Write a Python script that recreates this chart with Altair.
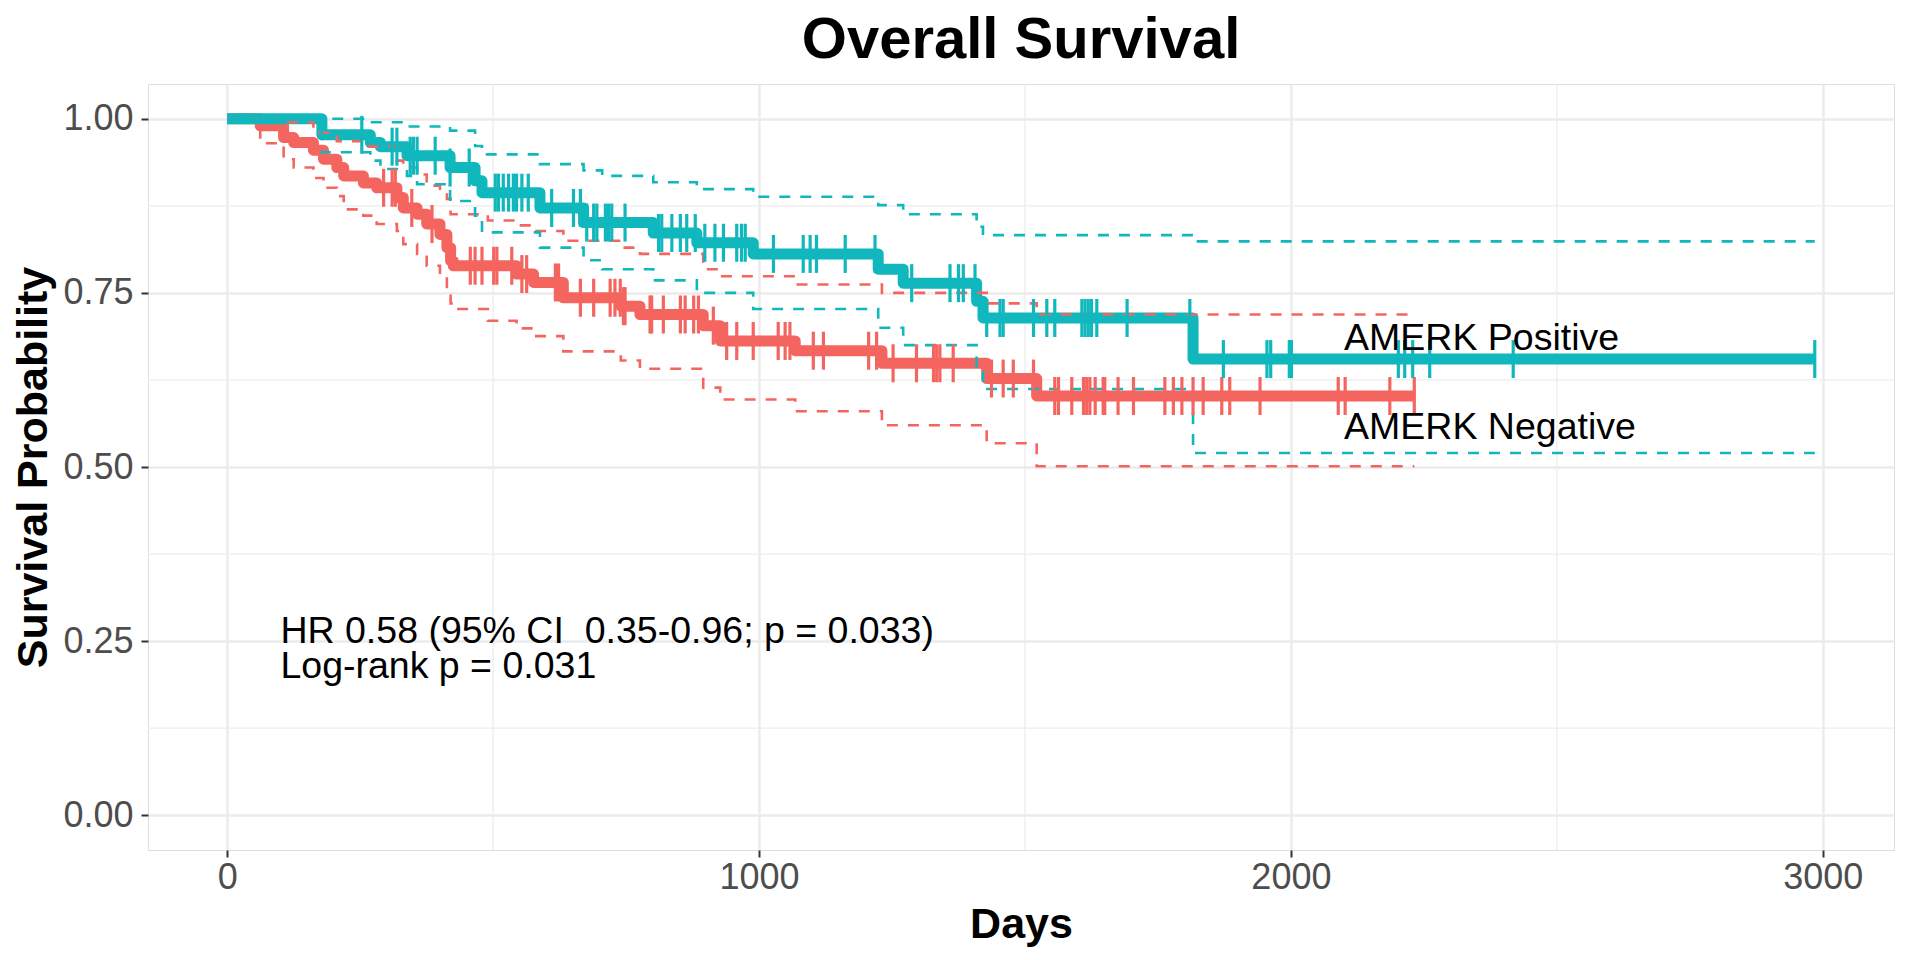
import altair as alt
import numpy as np
import pandas as pd

# ---------------- data ----------------
groups = ["AMERK Negative", "AMERK Positive"]
colors = ["#F5655F", "#10B8BD"]

neg_time = [0, 62, 106, 125, 162, 181, 206, 219, 256, 281, 319, 331, 357, 375, 400,
            413, 420, 425, 490, 544, 576, 632, 740, 776, 895, 927, 1068, 1231, 1428, 1522]
neg_surv = [1.0, 0.990, 0.973, 0.966, 0.955, 0.942, 0.930, 0.918, 0.908, 0.901, 0.887,
            0.872, 0.863, 0.849, 0.834, 0.815, 0.796, 0.789, 0.789, 0.777, 0.765, 0.743,
            0.731, 0.719, 0.703, 0.681, 0.667, 0.649, 0.627, 0.602]
neg_upper = [1.0, 1.0, 0.995, 0.995, 0.980, 0.980, 0.968, 0.968, 0.960, 0.960, 0.940,
             0.930, 0.920, 0.904, 0.895, 0.885, 0.863, 0.863, 0.854, 0.847, 0.839, 0.825,
             0.815, 0.806, 0.784, 0.774, 0.762, 0.750, 0.735, 0.719]
neg_lower = [1.0, 0.965, 0.942, 0.930, 0.915, 0.901, 0.889, 0.870, 0.861, 0.849, 0.839,
             0.820, 0.806, 0.789, 0.774, 0.755, 0.735, 0.727, 0.710, 0.699, 0.688, 0.666,
             0.653, 0.641, 0.614, 0.597, 0.580, 0.560, 0.534, 0.501]
neg_end = 2232
neg_censor = [294, 310, 316, 347, 385, 457, 466, 479, 501, 507, 535, 554, 563, 617, 623,
              664, 689, 720, 729, 739, 745, 748, 795, 798, 820, 852, 861, 877, 886, 914,
              939, 958, 989, 1036, 1049, 1058, 1102, 1121, 1206, 1221, 1252, 1296, 1328,
              1334, 1340, 1365, 1437, 1459, 1478, 1516, 1556, 1563, 1588, 1610, 1616, 1622,
              1632, 1647, 1650, 1675, 1704, 1763, 1779, 1795, 1816, 1835, 1870, 1885, 1942,
              2089, 2102, 2186, 2232]

pos_time = [0, 178, 269, 288, 338, 357, 419, 466, 479, 588, 670, 705, 801, 883, 989,
            1224, 1271, 1409, 1421, 1816]
pos_surv = [1.0, 0.977, 0.966, 0.960, 0.947, 0.947, 0.930, 0.911, 0.894, 0.872, 0.851,
            0.851, 0.836, 0.822, 0.806, 0.784, 0.764, 0.738, 0.714, 0.655]
pos_upper = [1.0, 1.0, 0.995, 0.995, 0.989, 0.989, 0.983, 0.961, 0.949, 0.935, 0.926,
             0.918, 0.909, 0.899, 0.888, 0.876, 0.863, 0.845, 0.833, 0.824]
pos_lower = [1.0, 0.952, 0.940, 0.928, 0.918, 0.906, 0.882, 0.861, 0.837, 0.815, 0.797,
             0.784, 0.768, 0.750, 0.727, 0.700, 0.675, 0.640, 0.612, 0.520]
pos_end = 2985
pos_censor = [253, 310, 319, 344, 350, 357, 391, 419, 455, 504, 510, 519, 529, 538, 544,
              554, 566, 610, 651, 664, 676, 689, 695, 711, 717, 723, 748, 811, 817, 836,
              852, 864, 880, 898, 917, 933, 958, 967, 974, 1027, 1083, 1096, 1108, 1162,
              1218, 1287, 1359, 1375, 1384, 1406, 1428, 1453, 1459, 1516, 1541, 1556, 1607,
              1613, 1619, 1625, 1635, 1692, 1810, 1873, 1955, 1962, 1997, 2001, 2202, 2214,
              2229, 2261, 2418, 2985]

x_major = [0, 1000, 2000, 3000]
x_minor = [500, 1500, 2500]
y_major = [0.0, 0.25, 0.5, 0.75, 1.0]
y_minor = [0.125, 0.375, 0.625, 0.875]

label_text = ["AMERK Positive", "AMERK Negative"]
label_x = [2100, 2100]
label_y = [0.668, 0.540]

# the reference shows two spaces after "CI"; a no-break space keeps the gap in SVG
note_text = ["HR 0.58 (95% CI\u00a0 0.35-0.96; p = 0.033)", "Log-rank p = 0.031"]
note_x = [100, 100]
note_y = [0.247, 0.197]

FONT = "Liberation Sans"


# ---------------- helpers ----------------
def step_frame(times, vals, end):
    return pd.DataFrame({"t": list(times) + [end], "v": list(vals) + [vals[-1]]})


def censor_frame(times, surv, cens):
    idx = np.searchsorted(np.array(times), np.array(cens), side="right") - 1
    return pd.DataFrame({"t": cens, "v": np.array(surv)[idx]})


xs = alt.Scale(domain=[-149, 3134], nice=False, zero=False)
ys = alt.Scale(domain=[-0.05, 1.05], nice=False, zero=False)

xax = alt.Axis(values=x_major, format="d", title="Days", titleFont=FONT,
               titleFontSize=43, titleFontWeight="bold", titleColor="black",
               titleBaseline="alphabetic", titleY=87,
               labelFont=FONT, labelFontSize=36, labelColor="#4D4D4D",
               labelBaseline="alphabetic", labelPadding=31,
               tickColor="#333333", tickSize=7, tickWidth=2,
               domain=False, grid=True, gridColor="#EBEBEB", gridWidth=2.4)
yax = alt.Axis(values=y_major, format=".2f", title="Survival Probability",
               titleFont=FONT, titleFontSize=43, titleFontWeight="bold",
               titleColor="black", titleAngle=270, titleBaseline="alphabetic",
               titleAlign="center", titleX=-102, titleY=383,
               labelFont=FONT, labelFontSize=36, labelColor="#4D4D4D",
               labelPadding=8, labelBaseline="middle",
               tickColor="#333333", tickSize=7, tickWidth=2,
               domain=False, grid=True, gridColor="#EBEBEB", gridWidth=2.4)


def X():
    return alt.X("t:Q", scale=xs, axis=xax)


def Y():
    return alt.Y("v:Q", scale=ys, axis=yax)


layers = []

# minor grid
layers.append(alt.Chart(pd.DataFrame({"t": x_minor})).mark_rule(
    color="#EDEDED", strokeWidth=1.3).encode(x=X()))
layers.append(alt.Chart(pd.DataFrame({"v": y_minor})).mark_rule(
    color="#EDEDED", strokeWidth=1.3).encode(y=Y()))

series = [
    (neg_time, neg_surv, neg_upper, neg_lower, neg_end, neg_censor, colors[0]),
    (pos_time, pos_surv, pos_upper, pos_lower, pos_end, pos_censor, colors[1]),
]

# main survival steps
for tm, sv, up, lo, end, cens, col in series:
    layers.append(alt.Chart(step_frame(tm, sv, end)).mark_line(
        interpolate="step-after", color=col, strokeWidth=11,
        strokeJoin="round", strokeCap="butt").encode(x=X(), y=Y()))

# confidence bands (dashed)
for tm, sv, up, lo, end, cens, col in series:
    for band in (up, lo):
        layers.append(alt.Chart(step_frame(tm, band, end)).mark_line(
            interpolate="step-after", color=col, strokeWidth=2.6,
            strokeDash=[11, 10]).encode(x=X(), y=Y()))

# censor marks
for tm, sv, up, lo, end, cens, col in series:
    layers.append(alt.Chart(censor_frame(tm, sv, cens)).mark_tick(
        orient="vertical", color=col, size=38, thickness=3.2, opacity=1).encode(
        x=X(), y=Y()))

# group labels
layers.append(alt.Chart(pd.DataFrame({"t": label_x, "v": label_y, "s": label_text})).mark_text(
    align="left", baseline="alphabetic", font=FONT, fontSize=37.5, color="black").encode(
    x=X(), y=Y(), text="s:N"))

# statistics note
layers.append(alt.Chart(pd.DataFrame({"t": note_x, "v": note_y, "s": note_text})).mark_text(
    align="left", baseline="alphabetic", font=FONT, fontSize=37.5, color="black").encode(
    x=X(), y=Y(), text="s:N"))

chart = alt.layer(*layers).properties(
    width=1746, height=766,
    title=alt.TitleParams(text="Overall Survival", font=FONT, fontSize=58,
                          fontWeight="bold", color="black", anchor="middle",
                          offset=13),
    autosize=alt.AutoSizeParams(type="none"),
    padding={"left": 140, "top": 76, "right": 10, "bottom": 100},
).configure_view(stroke=None).configure(background="white")

chart.save("out.html", embed_options={"renderer": "svg", "actions": False})
